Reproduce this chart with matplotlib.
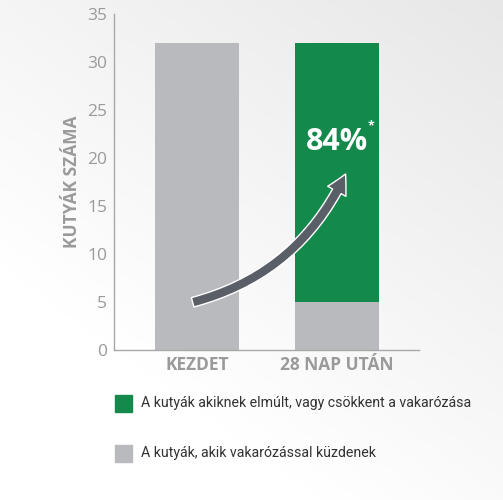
import numpy as np
import matplotlib
matplotlib.use('Agg')
import matplotlib.pyplot as plt
from matplotlib.patches import FancyArrowPatch, Rectangle

# adatok
kategoriak = ['KEZDET', '28 NAP UTÁN']
kuzdenek = [32, 5]        # még vakarózó kutyák
javult = [0, 27]          # elmúlt / csökkent vakarózás
szazalek = '84%'
jelmagyarazat = ['A kutyák akiknek elmúlt, vagy csökkent a vakarózása',
                 'A kutyák, akik vakarózással küzdenek']

zold = '#138a4b'
szurke = '#b9babe'
szoveg_szurke = '#9a9a9a'

plt.rcParams['font.family'] = ['Open Sans', 'DejaVu Sans']

fig = plt.figure(figsize=(5.03, 5.0), dpi=100)

# háttér színátmenet
bg = fig.add_axes([0, 0, 1, 1], zorder=-10)
yy, xx = np.mgrid[0:1:200j, 0:1:200j]
grad = np.clip(0.55 * xx + 0.75 * (1 - yy) - 0.35, 0, 1)
bg.imshow(grad, cmap=matplotlib.colors.LinearSegmentedColormap.from_list('h', ['#ffffff', '#e6e6e7']),
          extent=[0, 1, 0, 1], aspect='auto', origin='upper', vmin=0, vmax=1)
bg.axis('off')

ax = fig.add_axes([0.2266, 0.30, 0.6064, 0.672])
ax.patch.set_alpha(0)
x = np.arange(len(kategoriak))
ax.bar(x, kuzdenek, width=0.6, color=szurke)
ax.bar(x, javult, width=0.6, bottom=kuzdenek, color=zold)

ax.set_xlim(-0.593, 1.586)
ax.set_ylim(0, 35)
ax.set_yticks(range(0, 36, 5))
ax.set_xticks(x)
ax.set_xticklabels(kategoriak, fontsize=12.5, fontweight='bold', color=szoveg_szurke)
ax.tick_params(axis='y', length=0, pad=5, labelsize=12.5, labelcolor=szoveg_szurke)
ax.tick_params(axis='x', length=0, pad=4)
for s in ['top', 'right']:
    ax.spines[s].set_visible(False)
for s in ['left', 'bottom']:
    ax.spines[s].set_color('#a8a8a8')
    ax.spines[s].set_linewidth(1)
ax.set_ylabel('KUTYÁK SZÁMA', fontsize=12.5, fontweight='bold', color=szoveg_szurke, labelpad=4)

# nyíl
nyil = FancyArrowPatch((-0.05, 4.9), (1.07, 18.6),
                       connectionstyle='arc3,rad=0.24',
                       arrowstyle='simple,head_width=15,head_length=14,tail_width=7',
                       facecolor='#5a5f67', edgecolor='white', linewidth=1, zorder=5)
ax.add_patch(nyil)

ax.text(1.0, 21.7, szazalek, color='white', fontsize=22, fontweight='bold',
        ha='center', va='center')
ax.text(1.245, 23.3, '*', color='white', fontsize=9, fontweight='bold', ha='center', va='center')

# jelmagyarázat
for i, (cimke, szin) in enumerate(zip(jelmagyarazat, [zold, szurke])):
    yc = 1 - (403 + i * 50) / 500
    fig.add_artist(Rectangle((115 / 503, yc - 8.5 / 500), 17 / 503, 17 / 500,
                             transform=fig.transFigure, color=szin))
    fig.text(141 / 503, yc, cimke, fontsize=10.2, color='#333333', va='center',
             family=['Roboto', 'DejaVu Sans'])

fig.savefig('out.png', dpi=100)
